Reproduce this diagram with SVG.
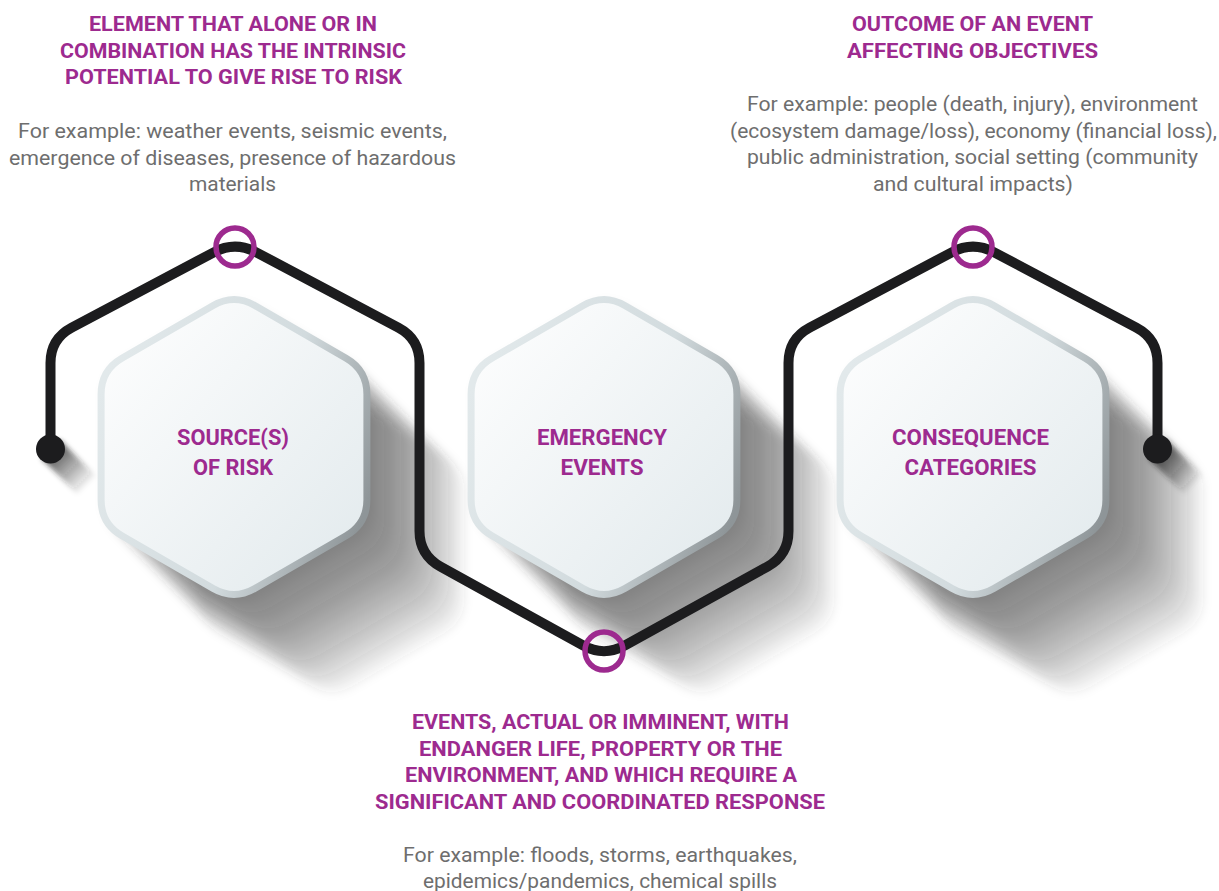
<svg xmlns="http://www.w3.org/2000/svg" xmlns:xlink="http://www.w3.org/1999/xlink" width="1219" height="891" viewBox="0 0 1219 891">
<style>
.head{font-family:Roboto,"Liberation Sans",sans-serif;font-weight:700;font-size:20.5px;fill:#9d2a8f;text-anchor:middle}
.lbl{font-family:Roboto,"Liberation Sans",sans-serif;font-weight:700;font-size:21.5px;fill:#9d2a8f;text-anchor:middle}
.body{font-family:Roboto,"Liberation Sans",sans-serif;font-weight:400;font-size:20.5px;fill:#6e6e6e;text-anchor:middle}
.hexface{fill:url(#faceGrad);stroke:url(#edgeGrad);stroke-width:7;stroke-linejoin:round}
.track{fill:none;stroke:#1c1c1e;stroke-width:10;stroke-linecap:round;stroke-linejoin:round}
.ring{fill:none;stroke:#9d2a8f;stroke-width:5.5}
.dot{fill:#1c1c1e}
.shc{fill:#3a3032;fill-opacity:0.075}
</style>
<defs>
<path id="hex" d="M 20.78 -141.5 L 112.12 -88.75 Q 132.9 -76.75 132.9 -52.75 L 132.9 52.75 Q 132.9 76.75 112.12 88.75 L 20.78 141.5 Q 0 153.5 -20.78 141.5 L -112.12 88.75 Q -132.9 76.75 -132.9 52.75 L -132.9 -52.75 Q -132.9 -76.75 -112.12 -88.75 L -20.78 -141.5 Q 0 -153.5 20.78 -141.5 Z"/>
<g id="longShadow">
<use href="#hex" class="shc" transform="translate(2,2)"/>
<use href="#hex" class="shc" transform="translate(10,10)"/>
<use href="#hex" class="shc" transform="translate(18,18)"/>
<use href="#hex" class="shc" transform="translate(26,26)"/>
<use href="#hex" class="shc" transform="translate(34,34)"/>
<use href="#hex" class="shc" transform="translate(42,42)"/>
<use href="#hex" class="shc" transform="translate(50,50)"/>
<use href="#hex" class="shc" transform="translate(58,58)"/>
<use href="#hex" class="shc" transform="translate(66,66)"/>
<use href="#hex" class="shc" transform="translate(74,74)"/>
<use href="#hex" class="shc" transform="translate(82,82)"/>
<use href="#hex" class="shc" transform="translate(90,90)"/>
<use href="#hex" class="shc" transform="translate(98,98)"/>
</g>
<linearGradient id="faceGrad" x1="0" y1="0" x2="1" y2="1">
<stop offset="0" stop-color="#ffffff"/>
<stop offset="1" stop-color="#e1e9ec"/>
</linearGradient>
<linearGradient id="edgeGrad" x1="0" y1="0.3" x2="1" y2="0.7">
<stop offset="0" stop-color="#e2e9eb"/>
<stop offset="0.6" stop-color="#d2dbde"/>
<stop offset="1" stop-color="#8e9598"/>
</linearGradient>
<filter id="softBlur" x="-30%" y="-30%" width="160%" height="160%">
<feGaussianBlur stdDeviation="5"/>
</filter>
<filter id="blur3" x="-50%" y="-50%" width="200%" height="200%">
<feGaussianBlur stdDeviation="2.5"/>
</filter>
<linearGradient id="dotShL" gradientUnits="userSpaceOnUse" x1="50" y1="449" x2="88" y2="487">
<stop offset="0" stop-color="#222" stop-opacity="0.8"/>
<stop offset="1" stop-color="#222" stop-opacity="0"/>
</linearGradient>
<linearGradient id="dotShR" gradientUnits="userSpaceOnUse" x1="1157" y1="449" x2="1195" y2="487">
<stop offset="0" stop-color="#222" stop-opacity="0.8"/>
<stop offset="1" stop-color="#222" stop-opacity="0"/>
</linearGradient>
</defs>

<rect width="1219" height="891" fill="#ffffff"/>

<g id="shadows">
<use href="#longShadow" transform="translate(234,447)" filter="url(#softBlur)"/>
<use href="#longShadow" transform="translate(604,447)" filter="url(#softBlur)"/>
<use href="#longShadow" transform="translate(973,447)" filter="url(#softBlur)"/>
<polygon points="59.7,439.8 95.7,475.8 77.3,494.2 41.3,458.2" fill="url(#dotShL)" filter="url(#blur3)"/>
<polygon points="1166.7,439.8 1202.7,475.8 1184.3,494.2 1148.3,458.2" fill="url(#dotShR)" filter="url(#blur3)"/>
</g>

<g id="node-source" transform="translate(234,447)">
<use href="#hex" class="hexface"/>
<text class="lbl" x="-1" y="-2" textLength="112" lengthAdjust="spacingAndGlyphs">SOURCE(S)</text>
<text class="lbl" x="-1" y="28" textLength="80" lengthAdjust="spacingAndGlyphs">OF RISK</text>
</g>
<g id="node-emergency" transform="translate(604,447)">
<use href="#hex" class="hexface"/>
<text class="lbl" x="-2" y="-2" textLength="130" lengthAdjust="spacingAndGlyphs">EMERGENCY</text>
<text class="lbl" x="-2" y="28" textLength="83" lengthAdjust="spacingAndGlyphs">EVENTS</text>
</g>
<g id="node-consequence" transform="translate(973,447)">
<use href="#hex" class="hexface"/>
<text class="lbl" x="-2.5" y="-2" textLength="157" lengthAdjust="spacingAndGlyphs">CONSEQUENCE</text>
<text class="lbl" x="-2.5" y="28" textLength="132" lengthAdjust="spacingAndGlyphs">CATEGORIES</text>
</g>

<g id="connectors">
<path class="track" d="M 50.5 449 L 50.5 363 Q 50.5 339 71.7 327.7 L 213.8 252.3 Q 235 241 256.2 252.3 L 398.3 327.7 Q 419.5 339 419.5 363 L 419.5 531 Q 419.5 555 440.5 566.6 L 583 645.4 Q 604 657 625 645.4 L 767.5 566.6 Q 788.5 555 788.5 531 L 788.5 363 Q 788.5 339 809.7 327.7 L 951.8 252.3 Q 973 241 994.2 252.3 L 1136.3 327.7 Q 1157.5 339 1157.5 363 L 1157.5 449"/>
<circle class="dot" cx="50.5" cy="449" r="14.5"/>
<circle class="dot" cx="1157.5" cy="449" r="14.5"/>
<circle class="ring" cx="235" cy="247" r="19"/>
<circle class="ring" cx="604" cy="651" r="19"/>
<circle class="ring" cx="973" cy="247" r="19"/>
</g>

<g id="note-source">
<text class="head" x="233" y="31" textLength="288" lengthAdjust="spacingAndGlyphs">ELEMENT THAT ALONE OR IN</text>
<text class="head" x="233" y="57.5" textLength="346" lengthAdjust="spacingAndGlyphs">COMBINATION HAS THE INTRINSIC</text>
<text class="head" x="233.5" y="84" textLength="337" lengthAdjust="spacingAndGlyphs">POTENTIAL TO GIVE RISE TO RISK</text>
<text class="body" x="232.5" y="138" textLength="429" lengthAdjust="spacingAndGlyphs">For example: weather events, seismic events,</text>
<text class="body" x="232.5" y="164.5" textLength="447" lengthAdjust="spacingAndGlyphs">emergence of diseases, presence of hazardous</text>
<text class="body" x="232.5" y="191" textLength="87" lengthAdjust="spacingAndGlyphs">materials</text>
</g>

<g id="note-consequence">
<text class="head" x="972.5" y="31" textLength="241" lengthAdjust="spacingAndGlyphs">OUTCOME OF AN EVENT</text>
<text class="head" x="972.5" y="58" textLength="251" lengthAdjust="spacingAndGlyphs">AFFECTING OBJECTIVES</text>
<text class="body" x="972.5" y="111" textLength="451" lengthAdjust="spacingAndGlyphs">For example: people (death, injury), environment</text>
<text class="body" x="973.5" y="137.5" textLength="487" lengthAdjust="spacingAndGlyphs">(ecosystem damage/loss), economy (financial loss),</text>
<text class="body" x="972.5" y="164" textLength="451" lengthAdjust="spacingAndGlyphs">public administration, social setting (community</text>
<text class="body" x="973" y="190.5" textLength="200" lengthAdjust="spacingAndGlyphs">and cultural impacts)</text>
</g>

<g id="note-emergency">
<text class="head" x="600.5" y="729" textLength="377" lengthAdjust="spacingAndGlyphs">EVENTS, ACTUAL OR IMMINENT, WITH</text>
<text class="head" x="600.5" y="755.5" textLength="363" lengthAdjust="spacingAndGlyphs">ENDANGER LIFE, PROPERTY OR THE</text>
<text class="head" x="601" y="782" textLength="392" lengthAdjust="spacingAndGlyphs">ENVIRONMENT, AND WHICH REQUIRE A</text>
<text class="head" x="600" y="808.5" textLength="450" lengthAdjust="spacingAndGlyphs">SIGNIFICANT AND COORDINATED RESPONSE</text>
<text class="body" x="600" y="862" textLength="394" lengthAdjust="spacingAndGlyphs">For example: floods, storms, earthquakes,</text>
<text class="body" x="600" y="888" textLength="354" lengthAdjust="spacingAndGlyphs">epidemics/pandemics, chemical spills</text>
</g>
</svg>
